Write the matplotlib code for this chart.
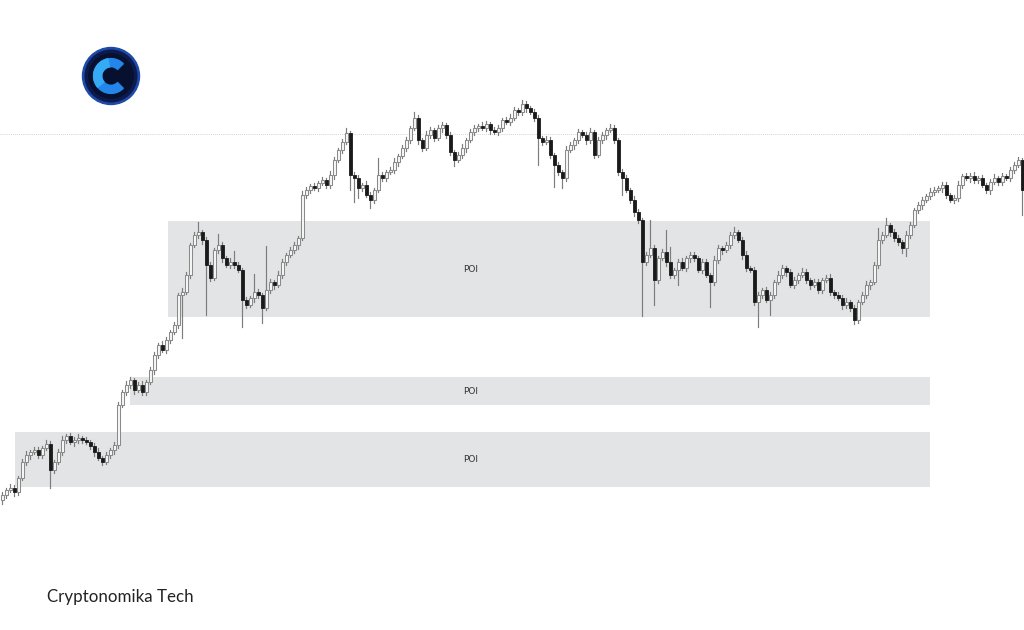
import matplotlib
matplotlib.use("Agg")
import matplotlib.pyplot as plt
from matplotlib.patches import Rectangle, Circle, Wedge

# candle closes (arbitrary price units), one per bar
closes = [
    135, 140, 142, 138, 152, 168, 175, 178, 180, 175, 182, 186, 160, 168, 178, 190,
    194, 188, 190, 192, 190, 188, 184, 178, 172, 168, 175, 180, 185, 225, 238, 245,
    250, 240, 245, 238, 248, 260, 275, 285, 280, 290, 298, 305, 335, 338, 355, 385,
    395, 398, 390, 365, 352, 380, 385, 372, 365, 368, 365, 360, 330, 325, 332, 338,
    335, 322, 340, 348, 345, 355, 368, 375, 380, 385, 392, 435, 440, 444, 442, 447,
    450, 445, 455, 470, 480, 488, 497, 455, 452, 442, 445, 435, 430, 440, 455, 452,
    458, 460, 468, 474, 482, 490, 502, 512, 490, 482, 495, 500, 492, 502, 505, 495,
    478, 470, 475, 482, 490, 498, 502, 504, 502, 506, 500, 498, 502, 510, 508, 512,
    520, 518, 526, 522, 518, 512, 492, 488, 490, 475, 465, 458, 452, 480, 485, 490,
    498, 495, 490, 498, 475, 490, 495, 500, 502, 490, 458, 452, 440, 430, 418, 410,
    368, 375, 382, 350, 372, 378, 368, 355, 360, 368, 362, 372, 375, 372, 360, 368,
    355, 348, 370, 382, 380, 385, 395, 398, 390, 375, 362, 360, 328, 335, 340, 330,
    335, 348, 355, 362, 358, 345, 350, 355, 358, 350, 345, 348, 340, 350, 352, 338,
    335, 332, 325, 328, 322, 310, 328, 335, 345, 348, 365, 390, 395, 405, 398, 392,
    388, 382, 395, 405, 420, 425, 430, 434, 438, 440, 442, 445, 435, 430, 432, 445,
    454, 452, 454, 450, 452, 445, 440, 448, 452, 448, 454, 452, 460, 465, 470, 440,
]
first_open = 130

# wick length above / below the body
upper_wick = [
    3, 2, 4, 3, 2, 3, 4, 2, 3, 3, 2, 4, 3, 2, 3, 4,
    2, 3, 3, 4, 2, 3, 2, 3, 4, 2, 3, 2, 3, 3, 2, 4,
    3, 2, 3, 4, 2, 3, 3, 2, 4, 3, 2, 3, 2, 4, 3, 2,
    3, 10, 2, 3, 3, 2, 11, 3, 2, 4, 11, 3, 2, 3, 2, 18,
    3, 2, 44, 3, 2, 4, 3, 2, 3, 3, 2, 4, 3, 2, 3, 2,
    3, 2, 4, 3, 2, 3, 5, 2, 3, 3, 2, 4, 3, 2, 17, 3,
    2, 3, 4, 2, 3, 3, 2, 6, 3, 2, 4, 3, 2, 3, 3, 2,
    3, 2, 3, 4, 2, 3, 3, 2, 4, 3, 2, 3, 3, 2, 3, 4,
    3, 2, 4, 3, 2, 3, 3, 2, 4, 3, 2, 3, 2, 4, 3, 2,
    3, 2, 3, 4, 2, 3, 3, 2, 4, 3, 2, 3, 3, 2, 4, 3,
    2, 3, 28, 3, 2, 3, 22, 15, 2, 3, 4, 2, 3, 3, 2, 3,
    3, 2, 4, 3, 2, 3, 3, 5, 2, 3, 4, 2, 3, 3, 2, 3,
    3, 2, 4, 3, 2, 3, 3, 2, 4, 3, 2, 3, 3, 2, 3, 4,
    2, 3, 3, 4, 2, 3, 2, 3, 4, 2, 3, 12, 3, 7, 2, 3,
    3, 2, 4, 3, 2, 3, 3, 2, 4, 3, 2, 3, 3, 2, 3, 4,
    2, 3, 3, 4, 2, 3, 2, 3, 4, 2, 3, 2, 3, 3, 3, 2,
]
lower_wick = [
    4, 3, 2, 4, 3, 2, 3, 4, 2, 3, 3, 2, 18, 3, 2, 3,
    3, 2, 4, 3, 3, 2, 3, 4, 2, 3, 2, 3, 4, 3, 2, 3,
    3, 4, 2, 3, 3, 2, 4, 3, 2, 3, 3, 2, 3, 43, 2, 3,
    2, 3, 4, 50, 3, 2, 3, 4, 2, 3, 3, 2, 27, 3, 2, 4,
    3, 15, 2, 3, 4, 2, 3, 3, 2, 3, 4, 2, 3, 3, 2, 3,
    2, 3, 3, 4, 2, 3, 2, 15, 24, 10, 3, 2, 8, 3, 2, 3,
    3, 2, 3, 4, 2, 3, 3, 2, 4, 3, 2, 3, 3, 2, 4, 3,
    3, 6, 2, 3, 4, 2, 3, 3, 2, 3, 4, 2, 3, 3, 2, 3,
    2, 3, 3, 4, 2, 3, 27, 3, 2, 3, 22, 3, 10, 3, 2, 4,
    3, 2, 4, 3, 3, 2, 3, 4, 2, 3, 3, 17, 2, 3, 4, 3,
    54, 3, 2, 25, 3, 2, 4, 3, 3, 15, 2, 3, 4, 3, 2, 3,
    2, 25, 3, 3, 4, 2, 3, 3, 2, 4, 3, 2, 3, 25, 3, 2,
    15, 3, 2, 3, 4, 2, 3, 3, 2, 3, 4, 2, 3, 3, 2, 3,
    3, 2, 4, 3, 3, 4, 3, 2, 3, 4, 2, 3, 3, 2, 4, 3,
    3, 5, 8, 3, 2, 3, 4, 2, 3, 3, 2, 4, 3, 2, 3, 3,
    3, 2, 4, 3, 3, 2, 3, 4, 2, 3, 3, 2, 3, 3, 2, 25,
]

# POI zones: (first bar, last bar, low, high)
poi_start = [41.5, 32, 3.25]
poi_end = [232, 232, 232]
poi_low = [313, 225, 143]
poi_high = [409, 253, 198]
poi_label = ["POI", "POI", "POI"]
poi_label_bar = 117.25

level_line = 496

opens = [first_open] + closes[:-1]

fig = plt.figure(figsize=(10.24, 6.3), dpi=100)
ax = fig.add_axes([0, 0, 1, 1])
ax.set_xlim(-0.5, len(closes) - 0.5)
ax.set_ylim(0, 630)
ax.axis("off")

for s, e, lo, hi, lab in zip(poi_start, poi_end, poi_low, poi_high, poi_label):
    ax.add_patch(Rectangle((s, lo), e - s, hi - lo, facecolor="#e3e4e6",
                           edgecolor="none", zorder=1))
    ax.text(poi_label_bar, (lo + hi) / 2, lab, ha="center", va="center",
            fontsize=6.5, color="#333333", zorder=2)

ax.axhline(level_line, color="#c4c4c4", lw=0.6, ls=(0, (1, 1.5)), zorder=1)

body_w = 0.75
for i, (o, c) in enumerate(zip(opens, closes)):
    top = max(o, c)
    bot = min(o, c)
    ax.plot([i, i], [bot - lower_wick[i], top + upper_wick[i]],
            color="#7d7d7d", lw=0.85, zorder=3)
    if c >= o:
        ax.add_patch(Rectangle((i - body_w / 2, bot), body_w, max(top - bot, 0.8),
                               facecolor="#f7f7f7", edgecolor="#8a8a8a",
                               lw=0.75, zorder=4))
    else:
        ax.add_patch(Rectangle((i - body_w / 2, bot), body_w, max(top - bot, 0.8),
                               facecolor="#1a1a1a", edgecolor="#1a1a1a",
                               lw=0.6, zorder=4))

# logo
lg = fig.add_axes([81 / 1024, (630 - 106) / 630, 60 / 1024, 60 / 630])
lg.set_xlim(-1, 1)
lg.set_ylim(-1, 1)
lg.set_aspect("equal")
lg.axis("off")
lg.add_patch(Circle((0, 0), 0.95, color="#1d4aa8"))
lg.add_patch(Circle((0, 0), 0.86, color="#0c1a4e"))
lg.add_patch(Circle((0, 0), 0.74, color="#07102e"))
lg.add_patch(Wedge((0, 0), 0.58, 45, 315, width=0.27, color="#2386ea"))
lg.add_patch(Wedge((0, 0), 0.58, 100, 220, width=0.27, color="#35aaf5"))

fig.text(47 / 1024, 1 - 597 / 630, "Cryptonomika Tech", ha="left", va="center",
         fontsize=12.2, family="Lato", color="#222222")

fig.savefig("out.png", dpi=100, facecolor="white")
